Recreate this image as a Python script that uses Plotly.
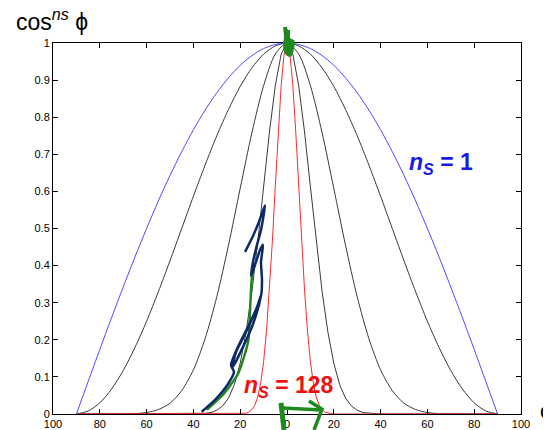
import plotly.graph_objects as go

# ---------------- data ----------------
phi_5 = [-90, -85, -80, -75, -70, -65, -60, -55, -50, -45, -40, -35, -30, -25, -20, -15, -10, -5, 0,
         5, 10, 15, 20, 25, 30, 35, 40, 45, 50, 55, 60, 65, 70, 75, 80, 85, 90]
ns1 = [0, .087, .174, .259, .342, .423, .5, .574, .643, .707, .766, .819, .866, .906, .940, .966, .985, .996, 1,
       .996, .985, .966, .940, .906, .866, .819, .766, .707, .643, .574, .5, .423, .342, .259, .174, .087, 0]
ns2 = [0, .008, .030, .067, .117, .179, .25, .329, .413, .5, .587, .671, .75, .821, .883, .933, .970, .992, 1,
       .992, .970, .933, .883, .821, .75, .671, .587, .5, .413, .329, .25, .179, .117, .067, .030, .008, 0]
ns8 = [0, 0, 0, 0, 0, .001, .004, .012, .029, .063, .119, .203, .316, .455, .608, .758, .885, .970, 1,
       .970, .885, .758, .608, .455, .316, .203, .119, .063, .029, .012, .004, .001, 0, 0, 0, 0, 0]

phi_32 = [-90, -40, -37.5, -35, -32.5, -30, -27.5, -25, -22.5, -20, -17.5, -15, -12.5, -10, -7.5, -5, -2.5, 0,
          2.5, 5, 7.5, 10, 12.5, 15, 17.5, 20, 22.5, 25, 27.5, 30, 32.5, 35, 37.5, 40, 90]
ns32 = [0, 0, .001, .002, .004, .010, .022, .043, .079, .137, .220, .330, .464, .613, .760, .885, .970, 1,
        .970, .885, .760, .613, .464, .330, .220, .137, .079, .043, .022, .010, .004, .002, .001, 0, 0]

phi_128 = [-90, -20, -18.75, -17.5, -16.25, -15, -13.75, -12.5, -11.25, -10, -8.75, -7.5, -6.25, -5, -3.75, -2.5,
           -1.25, 0, 1.25, 2.5, 3.75, 5, 6.25, 7.5, 8.75, 10, 11.25, 12.5, 13.75, 15, 16.25, 17.5, 18.75, 20, 90]
ns128 = [0, 0, .001, .002, .005, .012, .024, .046, .083, .141, .224, .333, .466, .614, .760, .885, .970, 1,
         .970, .885, .760, .614, .466, .333, .224, .141, .083, .046, .024, .012, .005, .002, .001, 0, 0]

x_tickvals = [-100, -80, -60, -40, -20, 0, 20, 40, 60, 80, 100]
x_ticktext = ["100", "80", "60", "40", "20", "0", "20", "40", "60", "80", "100"]
y_tickvals = [0, 0.1, 0.2, 0.3, 0.4, 0.5, 0.6, 0.7, 0.8, 0.9, 1]
y_ticktext = ["0", "0.1", "0.2", "0.3", "0.4", "0.5", "0.6", "0.7", "0.8", "0.9", "1"]

# hand-drawn marks (in phi / value units)
green_top_x = [-0.85, -0.43, -0.85, 0.0, 1.28, 2.14, 2.56, 0.85, 0.43]
green_top_y = [1.043, 1.013, 0.995, 0.973, 0.968, 0.987, 1.003, 1.008, 1.035]
green_curve_x = [-34.3, -27.0, -20.8, -16.5, -15.8, -15.1, -14.4]
green_curve_y = [0.011, 0.055, 0.110, 0.199, 0.280, 0.361, 0.384]
green_vert_x = [-2.56, -1.71, -1.28]
green_vert_y = [0.030, -0.011, -0.043]
green_arrow_x = [-1.71, 5.56, 14.96]
green_arrow_y = [0.016, 0.013, 0.011]
green_head_x = [9.4, 14.96, 11.54]
green_head_y = [0.035, 0.013, -0.043]
navy_x = [-36.45, -30.77, -25.21, -22.65, -23.93, -20.94, -16.67, -12.82, -11.11, -11.97, -14.96, -18.80,
          -22.22, -23.50, -21.79, -17.52, -13.68, -11.11, -10.68, -11.11, -10.26, -11.54, -13.25, -15.38,
          -14.53, -12.82, -11.11, -9.40, -11.97, -14.53, -17.95]
navy_y = [0.006, 0.038, 0.081, 0.113, 0.132, 0.181, 0.235, 0.288, 0.321, 0.294, 0.235, 0.181,
          0.137, 0.124, 0.167, 0.221, 0.275, 0.318, 0.361, 0.410, 0.456, 0.442, 0.410, 0.372,
          0.410, 0.456, 0.496, 0.563, 0.518, 0.480, 0.437]

# ---------------- layout geometry (screen pixels) ----------------
W, H = 551, 430          # window
OFF = 8                  # page body margin
WF, HF = W - OFF, H - OFF  # figure size
L, R, T, B = 53, 521, 43, 414   # plot box on screen
XMIN, XMAX, YMIN, YMAX = -100, 100, 0, 1
ppx = (R - L) / (XMAX - XMIN)
ppy = (B - T) / (YMAX - YMIN)
ov_x = [XMIN - (L - OFF) / ppx, XMAX + (WF - (R - OFF)) / ppx]
ov_y = [YMIN - (HF - (B - OFF)) / ppy, YMAX + (T - OFF) / ppy]


def px(x):
    return (x - OFF) / WF


def py(y):
    return 1 - (y - OFF) / HF


fig = go.Figure()
common = dict(mode="lines", hoverinfo="skip", showlegend=False)
for ys in (ns2, ns8):
    fig.add_trace(go.Scatter(x=phi_5, y=ys, line=dict(color="#3a3a3a", width=1, shape="spline", smoothing=0.8), **common))
fig.add_trace(go.Scatter(x=phi_32, y=ns32, line=dict(color="#3a3a3a", width=1), **common))
fig.add_trace(go.Scatter(x=phi_5, y=ns1, line=dict(color="#4a4aff", width=1, shape="spline", smoothing=0.8), **common))
fig.add_trace(go.Scatter(x=phi_128, y=ns128, line=dict(color="#ff2a2a", width=1), **common))

# scribbles on a full-figure overlay axis with the same scale
scr = dict(mode="lines", hoverinfo="skip", showlegend=False, xaxis="x2", yaxis="y2")
green = "#1e8a1e"
fig.add_trace(go.Scatter(x=green_curve_x, y=green_curve_y, line=dict(color=green, width=2.5, shape="spline", smoothing=0.6), **scr))
fig.add_trace(go.Scatter(x=navy_x, y=navy_y, line=dict(color="#0c2a66", width=2.5, shape="spline", smoothing=0.6), **scr))
fig.add_trace(go.Scatter(x=green_top_x, y=green_top_y, fill="toself", fillcolor=green,
                         line=dict(color=green, width=4, shape="spline"), **scr))
fig.add_trace(go.Scatter(x=green_vert_x, y=green_vert_y, line=dict(color=green, width=5), **scr))
fig.add_trace(go.Scatter(x=green_arrow_x, y=green_arrow_y, line=dict(color=green, width=3.5), **scr))
fig.add_trace(go.Scatter(x=green_head_x, y=green_head_y, line=dict(color=green, width=3.5), **scr))

axis_font = dict(family="Liberation Sans, Arial, sans-serif", size=11, color="black")
ax_common = dict(ticks="inside", ticklen=5, tickcolor="black", showline=True, linecolor="black", linewidth=1,
                 mirror="ticks", showgrid=False, zeroline=False, tickfont=axis_font, automargin=False)
fig.update_layout(
    template="none",
    width=WF, height=HF, margin=dict(l=0, r=0, t=0, b=0, pad=0), autosize=False,
    paper_bgcolor="white", plot_bgcolor="rgba(0,0,0,0)",
    xaxis=dict(domain=[px(L), px(R)], range=[XMIN, XMAX], tickvals=x_tickvals, ticktext=x_ticktext,
               anchor="y", **ax_common),
    yaxis=dict(domain=[py(B), py(T)], range=[YMIN, YMAX], tickvals=y_tickvals, ticktext=y_ticktext,
               anchor="x", **ax_common),
    xaxis2=dict(domain=[0, 1], range=ov_x, visible=False, anchor="y2", fixedrange=True, automargin=False),
    yaxis2=dict(domain=[0, 1], range=ov_y, visible=False, anchor="x2", fixedrange=True, automargin=False),
    font=dict(family="Liberation Sans, Arial, sans-serif"),
)

fig.add_annotation(x=px(14), y=py(20), xref="paper", yref="paper", xanchor="left", yanchor="middle",
                   text="cos<sup><i>ns</i></sup> ϕ", showarrow=False,
                   font=dict(size=23, color="black", family="Liberation Sans, Arial, sans-serif"))
fig.add_annotation(x=px(546), y=py(410), xref="paper", yref="paper", xanchor="center", yanchor="middle",
                   text="ϕ", showarrow=False,
                   font=dict(size=22, color="black", family="Liberation Sans, Arial, sans-serif"))
fig.add_annotation(x=66, y=0.675, xref="x", yref="y", text="<b><i>n</i><sub><i>S</i></sub> = 1</b>",
                   showarrow=False, font=dict(size=23, color="#1a1aee", family="Liberation Sans, Arial, sans-serif"))
fig.add_annotation(x=1, y=0.075, xref="x", yref="y", text="<b><i>n</i><sub><i>S</i></sub> = 128</b>",
                   showarrow=False, font=dict(size=23, color="#ee1111", family="Liberation Sans, Arial, sans-serif"))

fig.write_html("out.html")
